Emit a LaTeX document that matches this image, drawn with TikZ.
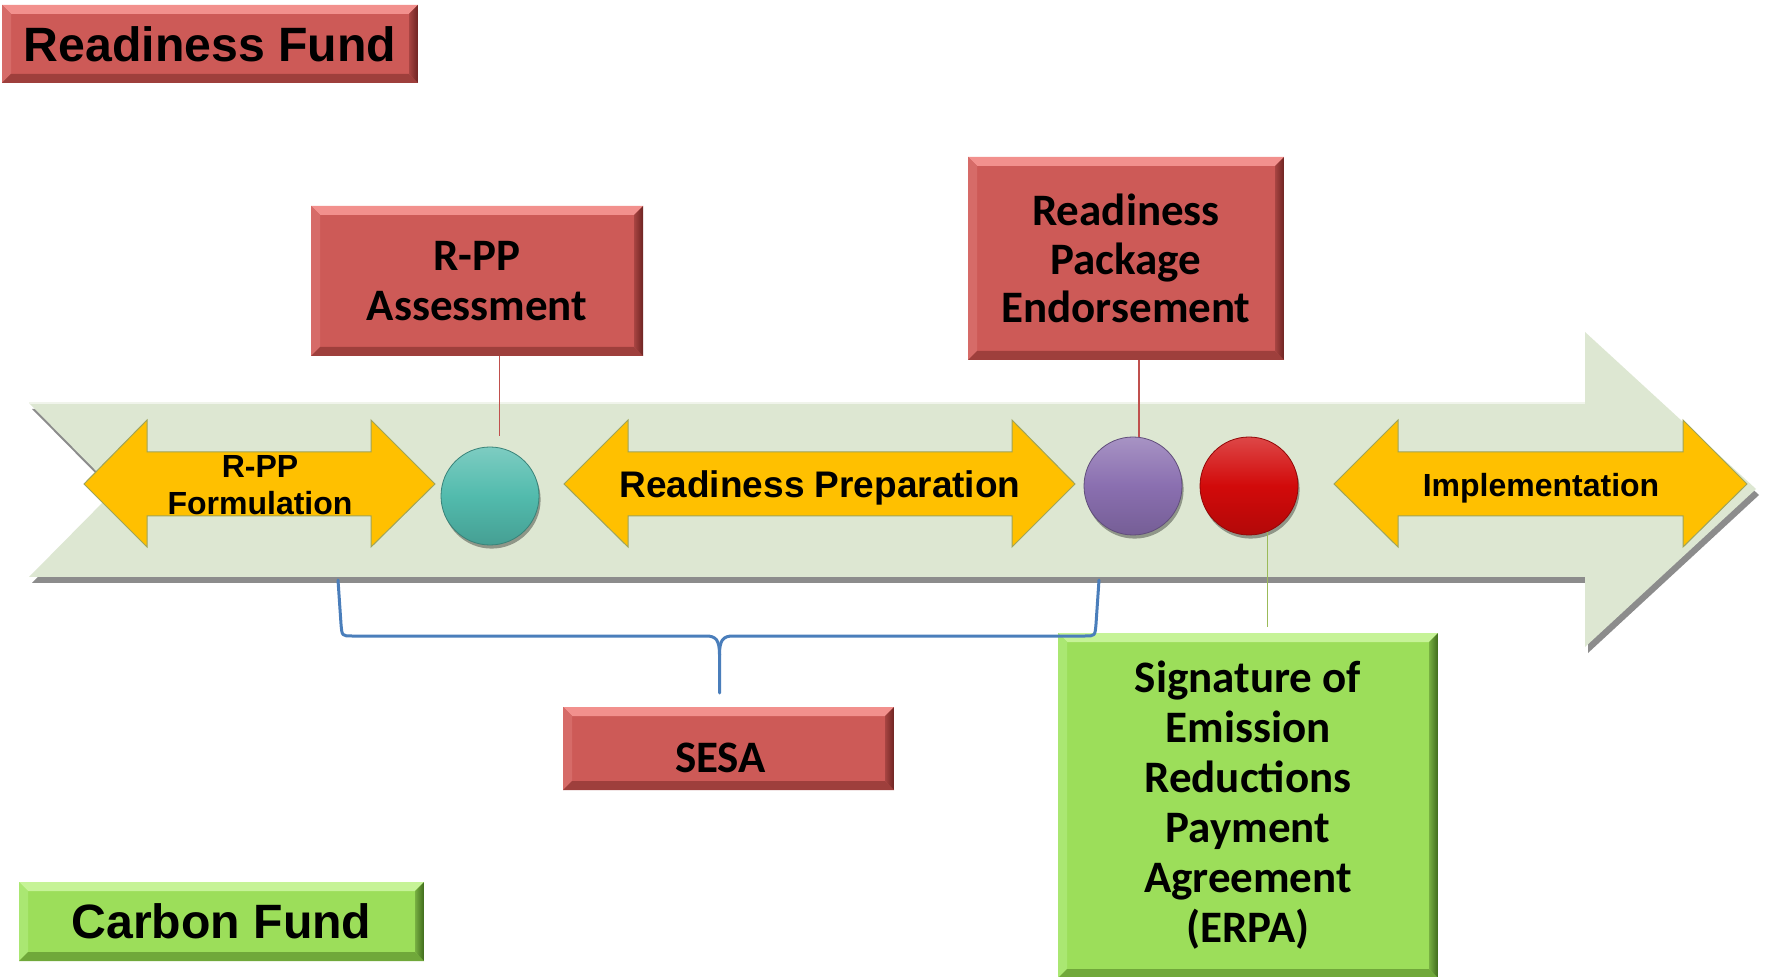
\documentclass[tikz,border=0pt]{standalone}
\usepackage{fontspec}
\newfontfamily\arialf{Liberation Sans}
\newfontfamily\calibf{Carlito}
\usetikzlibrary{shadows,calc}
\definecolor{boxred}{HTML}{CD5A57}
\definecolor{boxredtop}{HTML}{F2908D}
\definecolor{boxredleft}{HTML}{D66B68}
\definecolor{boxreddark}{HTML}{6E2422}
\definecolor{boxredbot}{HTML}{9E3F3C}
\definecolor{boxgreen}{HTML}{9CDE5A}
\definecolor{boxgreentop}{HTML}{C6F397}
\definecolor{boxgreenleft}{HTML}{AAE772}
\definecolor{boxgreendark}{HTML}{3F6A1C}
\definecolor{boxgreenbot}{HTML}{70A83A}
\definecolor{bigarrow}{HTML}{DDE7D2}
\definecolor{yellowarr}{HTML}{FFC000}
\definecolor{yellowedge}{HTML}{9FA45A}
\definecolor{tealc}{HTML}{52BBAD}
\definecolor{purplec}{HTML}{8A6FB0}
\definecolor{redc}{HTML}{D20A0A}
\definecolor{linered}{HTML}{C0504D}
\definecolor{linegreen}{HTML}{9BBB59}
\definecolor{braceblue}{HTML}{4A7EBB}
\tikzset{
  bevelbox/.style n args={5}{rectangle, inner sep=0pt, fill=#1, align=center,
    path picture={
      \fill[#2] (path picture bounding box.north west) -- (path picture bounding box.north east)
        -- ([shift={(-4.5pt,-4.5pt)}]path picture bounding box.north east)
        -- ([shift={(4.5pt,-4.5pt)}]path picture bounding box.north west) -- cycle;
      \fill[#3] (path picture bounding box.north west)
        -- ([shift={(4.5pt,-4.5pt)}]path picture bounding box.north west)
        -- ([shift={(4.5pt,4.5pt)}]path picture bounding box.south west)
        -- (path picture bounding box.south west) -- cycle;
      \fill[#5] (path picture bounding box.south west)
        -- ([shift={(4.5pt,4.5pt)}]path picture bounding box.south west)
        -- ([shift={(-4.5pt,4.5pt)}]path picture bounding box.south east)
        -- (path picture bounding box.south east) -- cycle;
      \shade[left color=#1!60!#4, right color=#4] (path picture bounding box.north east)
        -- ([shift={(-4.5pt,-4.5pt)}]path picture bounding box.north east)
        -- ([shift={(-4.5pt,4.5pt)}]path picture bounding box.south east)
        -- (path picture bounding box.south east) -- cycle;
    }},
  redbox/.style={bevelbox={boxred}{boxredtop}{boxredleft}{boxreddark}{boxredbot}},
  greenbox/.style={bevelbox={boxgreen}{boxgreentop}{boxgreenleft}{boxgreendark}{boxgreenbot}},
  arialtxt/.style={font=\arialf\bfseries\fontsize{24.1pt}{28pt}\selectfont},
  calibtxt/.style={font=\calibf\bfseries\fontsize{22.5pt}{24.75pt}\selectfont},
  yarrow/.style={fill=yellowarr, draw=yellowedge, line width=0.5pt, line join=miter},
  ytxt/.style={inner sep=0pt, align=center},
  ball3d/.style={circle, inner sep=0pt, minimum size=49pt, draw=#1!70!black, line width=0.4pt,
    top color=#1!75!white, bottom color=#1!85!black, middle color=#1,
    drop shadow={shadow xshift=0.8pt, shadow yshift=-1.8pt, opacity=0.35, fill=black}},
  redconn/.style={draw=linered, line width=0.8pt},
  greenconn/.style={draw=linegreen, line width=0.8pt},
  bracestyle/.style={draw=braceblue, line width=1.5pt, line join=round, line cap=round},
}
\newcommand{\ydblarrow}[4]{\draw[yarrow] (#1,484) -- (#2,420) -- (#2,452) -- (#3,452) -- (#3,420) -- (#4,484) -- (#3,547) -- (#3,516) -- (#2,516) -- (#2,547) -- cycle;}
\begin{document}
\begin{tikzpicture}[x=0.5pt,y=-0.5pt]
\useasboundingbox (0,0) rectangle (1765,977);
\fill[white] (0,0) rectangle (1765,977);

% big timeline arrow
\fill[bigarrow, drop shadow={shadow xshift=1.5pt, shadow yshift=-3pt, opacity=0.45, fill=black}]
  (29,403) -- (1585,403) -- (1585,332) -- (1756,489) -- (1585,647) -- (1585,577) -- (29,577) -- (115,490) -- cycle;
\draw[white!55!bigarrow, line width=0.8pt] (29,403) -- (1585,403);

% yellow double arrows
\ydblarrow{84}{147}{371}{435}
\ydblarrow{564}{628}{1012}{1075}
\ydblarrow{1334}{1398}{1683}{1747}
\node[ytxt, font=\arialf\bfseries\fontsize{16pt}{18.5pt}\selectfont] (form) at (260,485) {R-PP\\Formulation};
\node[ytxt, font=\arialf\bfseries\fontsize{18.5pt}{22pt}\selectfont] (prep) at (820,488) {Readiness Preparation};
\node[ytxt, font=\arialf\bfseries\fontsize{16pt}{19pt}\selectfont] (impl) at (1541,488) {Implementation};

% milestones
\node[ball3d=tealc] (teal) at (490,496) {};
\node[ball3d=purplec] (purple) at (1133,486) {};
\node[ball3d=redc] (redball) at (1249,486) {};

% boxes
\node[redbox, arialtxt, minimum width=208pt, minimum height=39pt] (rfund) at (210,44) {Readiness Fund};
\node[greenbox, arialtxt, minimum width=202.5pt, minimum height=39.5pt] (cfund) at (221.5,921.5) {Carbon Fund};
\node[redbox, calibtxt, minimum width=166pt, minimum height=75pt] (assess) at (477,281) {R-PP\\Assessment};
\node[redbox, calibtxt, font=\calibf\bfseries\fontsize{22.5pt}{24.3pt}\selectfont, minimum width=158pt, minimum height=101.5pt] (pkg) at (1126,258.5) {Readiness\\Package\\Endorsement};
\node[redbox, calibtxt, minimum width=165.5pt, minimum height=41.5pt, text height=24pt, text depth=0pt] (sesa) at (728.5,748.5) {SESA\kern8pt};
\node[greenbox, calibtxt, font=\calibf\bfseries\fontsize{22.5pt}{25pt}\selectfont, minimum width=190pt, minimum height=172.5pt] (erpa) at (1248,805.5) {Signature of\\Emission\\Reductions\\Payment\\Agreement\\(ERPA)};

% connectors
\draw[redconn, shorten >=6pt] (teal.79 |- assess.south) -- (teal.79);
\draw[redconn] (purple.83 |- pkg.south) -- (purple.83);
\draw[greenconn, shorten >=3pt] (redball.-68) -- (redball.-68 |- erpa.north);

% brace for SESA
\coordinate (braceL) at (338,580);
\coordinate (braceR) at (1099,580);
\coordinate (braceM) at (719.5,693);
\draw[bracestyle] (braceL) -- (341,624) .. controls (342,636) .. (352,636) -- (706,636)
  .. controls (716,636) and (719.5,640) .. (719.5,655) -- (braceM);
\draw[bracestyle] (braceR) -- (1096,624) .. controls (1095,636) .. (1085,636) -- (733,636)
  .. controls (723,636) and (719.5,640) .. (719.5,655);
\end{tikzpicture}
\end{document}
